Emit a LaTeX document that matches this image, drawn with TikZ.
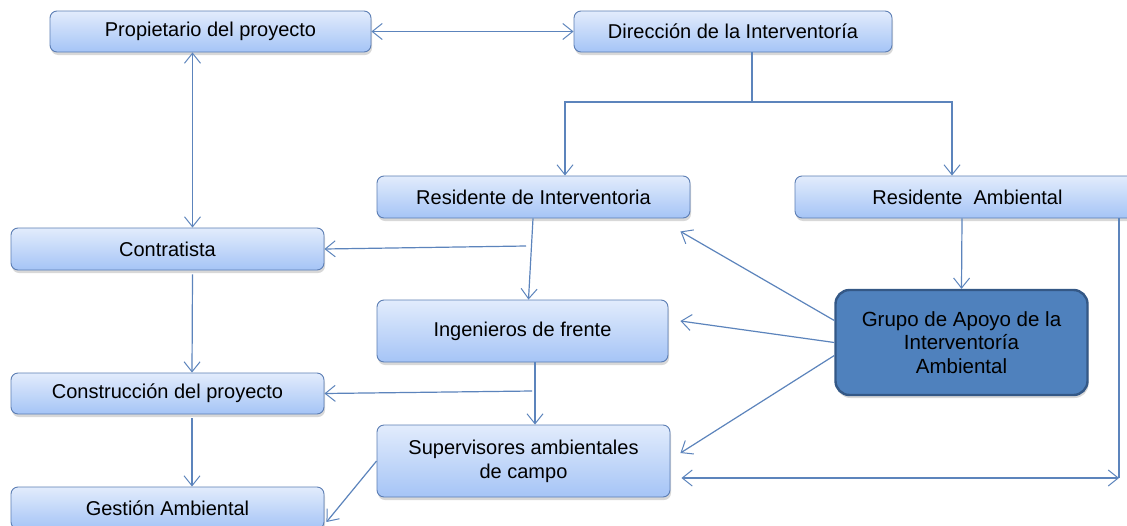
\documentclass[tikz,border=0pt]{standalone}
\usepackage{fontspec}
\setmainfont{Liberation Sans}
\usetikzlibrary{arrows.meta,shadows,calc}
\definecolor{linec}{RGB}{92,132,188}
\definecolor{boxtop}{RGB}{226,236,252}
\definecolor{boxbot}{RGB}{165,196,246}
\definecolor{boxline}{RGB}{92,126,180}
\definecolor{grpfill}{RGB}{79,129,189}
\definecolor{grpline}{RGB}{52,88,134}
\tikzset{
  box/.style={draw=boxline, line width=0.9pt, rounded corners=7pt,
    top color=boxtop, bottom color=boxbot, align=center, inner sep=0pt,
    font=\fontsize{20}{24}\selectfont, text=black,
    drop shadow={opacity=0.3, shadow xshift=1pt, shadow yshift=-3pt}},
  grpbox/.style={draw=grpline, line width=2.4pt, rounded corners=14pt,
    fill=grpfill, align=center, inner sep=0pt,
    font=\fontsize{20.5}{23.5}\selectfont, text=black,
    drop shadow={opacity=0.3, shadow xshift=1pt, shadow yshift=-3pt}},
  conn/.style={draw=linec, line width=1.2pt},
}
\begin{document}
\begin{tikzpicture}[x=1pt,y=-1pt,>={Straight Barb[length=10pt,width=16pt,line width=1pt]}]
\useasboundingbox (0,0) rectangle (1127,525);
\clip (0,0) rectangle (1127,525);
\fill[white] (0,0) rectangle (1127,525);

\node[box, minimum width=321pt, minimum height=41pt] (prop) at (210.5,31.5) {Propietario del proyecto};
\node[box, minimum width=318pt, minimum height=41pt] (dir) at (733,31.5) {Dirección de la Interventoría};
\node[box, minimum width=313pt, minimum height=42pt] (resi) at (533.5,197) {Residente de Interventoria};
\node[box, minimum width=345pt, minimum height=42pt] (resa) at (967.5,197) {Residente\ \ Ambiental};
\node[box, minimum width=313pt, minimum height=42pt] (cont) at (167.5,249) {Contratista};
\node[box, minimum width=291pt, minimum height=62pt] (inge) at (522.5,331) {Ingenieros de frente};
\node[grpbox, minimum width=252pt, minimum height=105pt] (grupo) at (961.5,342.5) {Grupo de Apoyo de la\\Interventoría\\Ambiental};
\node[box, minimum width=313pt, minimum height=41pt] (cons) at (167.5,393.5) {Construcción del proyecto};
\node[box, minimum width=293pt, minimum height=72pt] (sup) at (523.5,461) {Supervisores ambientales\\de campo};
\node[box, minimum width=313pt, minimum height=42pt] (gest) at (167.5,508) {Gestión Ambiental};

\coordinate (split) at (752,102);
\coordinate (c1) at (526,246);
\coordinate (c2) at (532,391);
\coordinate (corner) at (1119,478);

\draw[conn, <->] (prop.east) -- (dir.west);
\draw[conn, <->] ([xshift=-18pt]prop.south) -- ([xshift=25pt]cont.north);
\draw[conn] ([xshift=19pt]dir.south) -- (split);
\draw[conn, ->] (split) -| ([xshift=31.5pt]resi.north);
\draw[conn, ->] (split) -| ([xshift=-15.5pt]resa.north);
\draw[conn, ->] ([xshift=-0.5pt]resi.south) -- ([xshift=6pt]inge.north);
\draw[conn, ->] (c1) -- (cont.east);
\draw[conn, ->] ([xshift=25pt,yshift=-4pt]cont.south) -- ([xshift=24.5pt]cons.north);
\draw[conn, ->] ([xshift=24.5pt,yshift=-4pt]cons.south) -- ([xshift=24.5pt]gest.north);
\draw[conn, ->] ([xshift=12.5pt]inge.south) -- ([xshift=11.5pt]sup.north);
\draw[conn, ->] (c2) -- (cons.east);
\draw[conn, ->] (sup.west) -- ([xshift=2pt,yshift=-14pt]gest.east);
\draw[conn, ->] ([yshift=22pt]grupo.west) -- ([xshift=-10pt,yshift=-13pt]resi.south east);
\draw[conn, ->] (grupo.west) -- ([xshift=12pt,yshift=10pt]inge.east);
\draw[conn, ->] ([yshift=-13pt]grupo.west) -- ([xshift=10pt,yshift=8pt]sup.east);
\draw[conn, ->] ([xshift=-5.5pt]resa.south) -- (grupo.north);
\draw[conn] ([xshift=151.5pt]resa.south) -- (corner);
\draw[conn, <->] ([xshift=11pt,yshift=-17pt]sup.east) -- (corner);
\end{tikzpicture}
\end{document}
